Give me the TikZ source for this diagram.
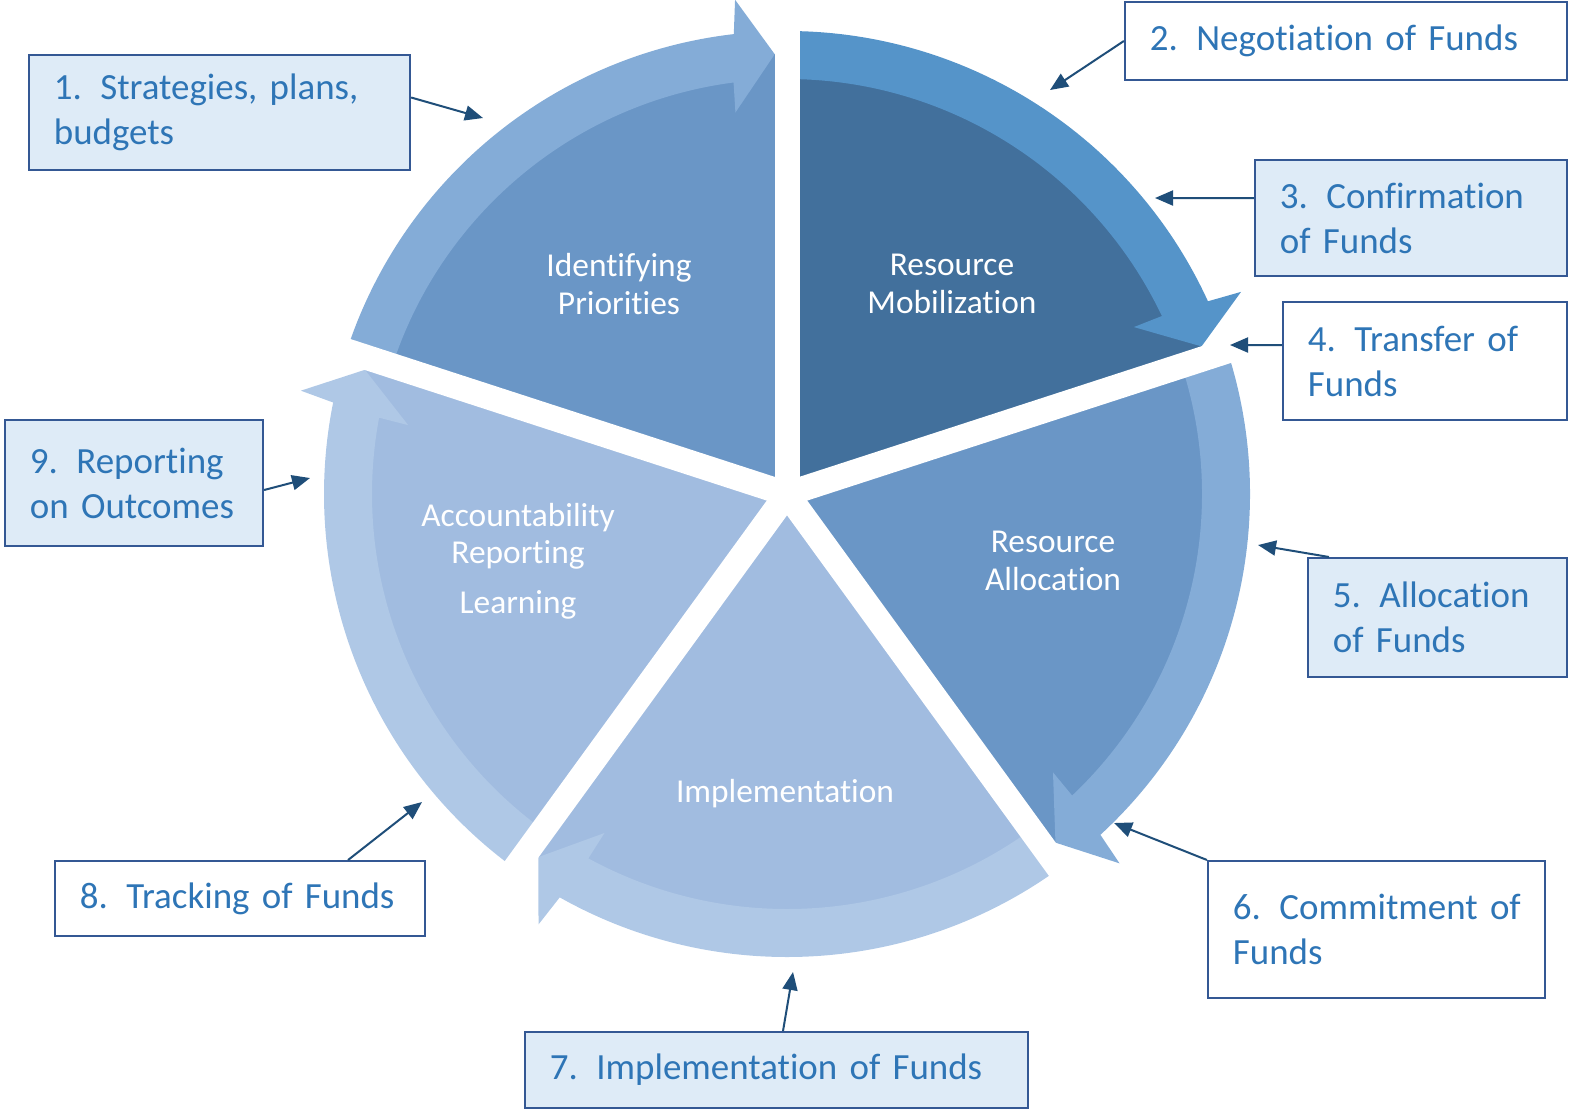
\documentclass[tikz,border=0pt]{standalone}
\usepackage{fontspec}
\setmainfont{Carlito}[Ligatures=NoCommon]
\usetikzlibrary{arrows.meta}
\frenchspacing

\definecolor{coremid}{RGB}{106,150,198}
\definecolor{bandmid}{RGB}{132,172,215}
\definecolor{coredark}{RGB}{66,112,156}
\definecolor{banddark}{RGB}{85,148,201}
\definecolor{corepale}{RGB}{161,188,224}
\definecolor{bandpale}{RGB}{175,200,230}
\definecolor{boxfill}{RGB}{222,235,247}
\definecolor{boxline}{RGB}{52,88,148}
\definecolor{boxtext}{RGB}{46,117,182}
\definecolor{arrowblue}{RGB}{31,78,121}

\newcommand{\itemgap}{\hspace{0.5em}}

\begin{document}
\begin{tikzpicture}[
  x=0.01cm, y=0.01cm,
  stagelabel/.style={text=white, align=center, font=\fontsize{9.5}{10.7}\selectfont},
  callbox/.style={rectangle, draw=boxline, line width=0.02cm, text=boxtext, align=left, inner xsep=0.25cm, inner ysep=0pt, font=\fontsize{10.5}{12.8}\selectfont},
  callarrow/.style={-{Triangle[length=0.18cm, width=0.15cm]}, draw=arrowblue, line width=0.02cm}
]
\useasboundingbox (0,0) rectangle (1570,-1108);

% Pie wedges with their arrow bands
\begin{scope}[shift={(787,-494)}]
\foreach \startang/\core/\band in {162/coremid/bandmid, 90/coredark/banddark, 18/coremid/bandmid, -54/corepale/bandpale, -126/corepale/bandpale}{
  \pgfmathsetmacro\endang{\startang-72}
  \pgfmathsetmacro\tipang{\endang+1.6}
  \pgfmathsetmacro\outbase{\tipang+5}
  \pgfmathsetmacro\outbarb{\tipang+4.4}
  \pgfmathsetmacro\inbarb{\tipang+6.1}
  \pgfmathsetmacro\inbase{\tipang+5.8}
  \fill[\core] (0,0) -- (\startang:440) arc[start angle=\startang, end angle=\endang, radius=440] -- cycle;
  \fill[\band] (\startang:463) arc[start angle=\startang, end angle=\outbase, radius=463]
    -- (\outbarb:497) -- (\tipang:440) -- (\inbarb:385) -- (\inbase:415)
    arc[start angle=\inbase, end angle=\startang, radius=415] -- cycle;
}
% White gaps between the wedges
\foreach \gapang in {162,90,18,-54,-126}
  \draw[white, line width=0.25cm] (0,0) -- (\gapang:530);
\end{scope}

% Stage labels
\node[stagelabel] (prio) at (619,-284) {Identifying\\Priorities};
\node[stagelabel] (mobil) at (952,-284) {Resource\\Mobilization};
\node[stagelabel] (alloc) at (1053,-561) {Resource\\Allocation};
\node[stagelabel] (impl) at (785,-794) {Implementation};
\node[stagelabel] (acct) at (518,-561) {Accountability\\Reporting\\[0.12cm]Learning};

% Callout boxes
\node[callbox, fill=boxfill, text width=3.31cm, minimum height=1.15cm] (box1) at (219.5,-112.5) {1.\itemgap Strategies, plans,\\budgets};
\node[callbox, fill=white, text width=3.92cm, minimum height=0.78cm] (box2) at (1346,-41) {2.\itemgap Negotiation of Funds};
\node[callbox, fill=boxfill, text width=2.62cm, minimum height=1.16cm] (box3) at (1411,-218) {3.\itemgap Confirmation\\of Funds};
\node[callbox, fill=white, text width=2.34cm, minimum height=1.18cm] (box4) at (1425,-361) {4.\itemgap Transfer of\\Funds};
\node[callbox, fill=boxfill, text width=2.09cm, minimum height=1.19cm] (box5) at (1437.5,-617.5) {5.\itemgap Allocation\\of Funds};
\node[callbox, fill=white, text width=2.87cm, minimum height=1.37cm] (box6) at (1376.5,-929.5) {\mbox{6.\itemgap Commitment of}\\Funds};
\node[callbox, fill=boxfill, text width=4.53cm, minimum height=0.76cm] (box7) at (776.5,-1070) {7.\itemgap Implementation of Funds};
\node[callbox, fill=white, text width=3.20cm, minimum height=0.75cm] (box8) at (240,-898.5) {8.\itemgap Tracking of Funds};
\node[callbox, fill=boxfill, text width=2.08cm, minimum height=1.26cm] (box9) at (134,-483) {9.\itemgap Reporting\\on Outcomes};

% Arrow tips
\coordinate (tip1) at (483,-118);
\coordinate (tip2) at (1050,-90);
\coordinate (tip3) at (1155,-198);
\coordinate (tip4) at (1230,-345);
\coordinate (tip5) at (1258,-545);
\coordinate (tip6) at (1114,-823);
\coordinate (tip7) at (793,-972);
\coordinate (tip8) at (422,-802);
\coordinate (tip9) at (310,-478);

% Arrows
\draw[callarrow] ([yshift=0.15cm]box1.east) -- (tip1);
\draw[callarrow] (box2.west) -- (tip2);
\draw[callarrow] ([yshift=0.2cm]box3.west) -- (tip3);
\draw[callarrow] ([yshift=0.16cm]box4.west) -- (tip4);
\draw[callarrow] ([xshift=0.22cm]box5.north west) -- (tip5);
\draw[callarrow] (box6.north west) -- (tip6);
\draw[callarrow] ([xshift=0.065cm]box7.north) -- (tip7);
\draw[callarrow] ([xshift=1.08cm]box8.north) -- (tip8);
\draw[callarrow] ([yshift=-0.07cm]box9.east) -- (tip9);

\end{tikzpicture}
\end{document}
